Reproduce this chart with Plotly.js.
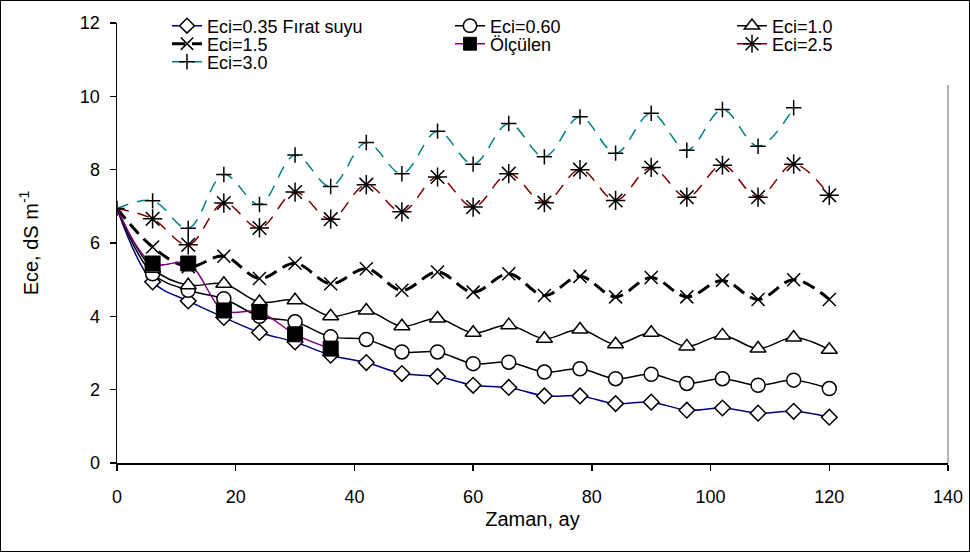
<!DOCTYPE html>
<html><head><meta charset="utf-8">
<script src="https://cdn.plot.ly/plotly-3.0.1.min.js"></script>
<style>
html,body{margin:0;padding:0;background:#fff}
#wrap{position:relative;width:970px;height:552px}
#chart{width:970px;height:552px}
#frame{position:absolute;left:0;top:0;width:970px;height:552px;box-sizing:border-box;border:1px solid #000;pointer-events:none}
</style>
</head><body><div id="wrap"><div id="chart"></div><div id="frame"></div></div>
<script>
const months = [0,6,12,18,24,30,36,42,48,54,60,66,72,78,84,90,96,102,108,114,120];
const months300 = [0,6,12,18,24,30,36,42,48,54,60,66,72,78,84,90,96,102,108,114];
const monthsMeasured = [0,6,12,18,24,30,36];

const eci035 = [6.94,4.94,4.42,3.97,3.56,3.30,2.94,2.74,2.44,2.36,2.12,2.06,1.83,1.83,1.62,1.66,1.44,1.50,1.36,1.41,1.25];
const eci060 = [6.94,5.16,4.71,4.48,4.00,3.85,3.44,3.37,3.03,3.03,2.71,2.75,2.48,2.57,2.30,2.42,2.17,2.30,2.12,2.26,2.03];
const eci100 = [6.94,5.30,4.85,4.89,4.39,4.44,4.00,4.16,3.73,3.94,3.55,3.76,3.39,3.64,3.24,3.55,3.18,3.48,3.12,3.42,3.09];
const eci150 = [6.94,5.89,5.35,5.64,5.03,5.45,4.89,5.30,4.71,5.21,4.66,5.16,4.57,5.09,4.53,5.06,4.53,4.98,4.46,5.00,4.46];
const measured = [6.94,5.44,5.44,4.16,4.12,3.51,3.12];
const eci250 = [6.94,6.66,5.95,7.09,6.41,7.39,6.65,7.59,6.85,7.80,6.98,7.89,7.10,8.00,7.16,8.06,7.25,8.12,7.25,8.15,7.30];
const eci300 = [6.94,7.15,6.40,7.87,7.05,8.40,7.54,8.74,7.89,9.05,8.15,9.26,8.35,9.44,8.45,9.54,8.53,9.64,8.64,9.69];

const names = ['Eci=0.35 Fırat suyu','Eci=0.60','Eci=1.0','Eci=1.5','Ölçülen','Eci=2.5','Eci=3.0'];

const FONT = 'Liberation Sans, Arial, sans-serif';
function sizes(arr, s, hideFirst){ return arr.map((v,i)=> (hideFirst && i===0) ? 0 : s); }

const traces = [
  {x: months, y: eci035, name: names[0], legend:'legend', mode:'lines+markers',
   line:{color:'#000080', width:1.5, shape:'spline'},
   marker:{symbol:'diamond', size:sizes(eci035,12,true), opacity:1, color:'#fff', line:{color:'#000', width:1.5}}},
  {x: months, y: eci060, name: names[1], legend:'legend2', mode:'lines+markers',
   line:{color:'#000', width:1.5, shape:'spline'},
   marker:{symbol:'circle', size:sizes(eci060,14,true), opacity:1, color:'#fff', line:{color:'#000', width:1.5}}},
  {x: months, y: eci100, name: names[2], legend:'legend3', mode:'lines+markers',
   line:{color:'#000', width:1.5, shape:'spline'},
   marker:{symbol:'triangle-up', size:sizes(eci100,14,true), opacity:1, color:'#fff', line:{color:'#000', width:1.5}}},
  {x: months, y: eci150, name: names[3], legend:'legend4', mode:'lines+markers',
   line:{color:'#000', width:3, shape:'spline', dash:'13px,7px'},
   marker:{symbol:'x-thin-open', size:sizes(eci150,13,true), opacity:1, color:'#000', line:{color:'#000', width:1.5}}},
  {x: monthsMeasured, y: measured, name: names[4], legend:'legend5', mode:'lines+markers',
   line:{color:'#800080', width:1.5, shape:'spline'},
   marker:{symbol:'square', size:sizes(measured,15,true), opacity:1, color:'#000', line:{color:'#000', width:1}}},
  {x: months, y: eci250, name: names[5], legend:'legend6', mode:'lines+markers',
   line:{color:'#800000', width:1.5, shape:'spline', dash:'12px,9px'},
   marker:{symbol:'asterisk-open', size:sizes(eci250,16,true), opacity:1, color:'#000', line:{color:'#000', width:1.5}}},
  {x: months300, y: eci300, name: names[6], legend:'legend7', mode:'lines+markers',
   line:{color:'#008080', width:1.5, shape:'spline', dash:'12px,9px'},
   marker:{symbol:'cross-thin-open', size:sizes(eci300,11,false), opacity:1, color:'#000', line:{color:'#000', width:1.5}}}
];

const L = 117, R = 948, T = 23, B = 463;
function px2x(p){ return (p - L)/(R - L); }
function px2y(p){ return (B - p)/(B - T); }
function leg(xpx, ypx){
  return {x:px2x(xpx), y:px2y(ypx), xanchor:'left', yanchor:'middle', bgcolor:'rgba(0,0,0,0)',
          borderwidth:0, font:{family:FONT, size:18, color:'#000'}, itemsizing:'trace'};
}
const c1 = 167, c2 = 450, c3 = 732, r1 = 26, r2 = 44, r3 = 62;

const layout = {
  width:970, height:552,
  margin:{l:L, r:970-R, t:T, b:552-B, autoexpand:false},
  paper_bgcolor:'#fff', plot_bgcolor:'#fff',
  font:{family:FONT, size:18, color:'#000'},
  showlegend:true,
  legend: leg(c1, r1), legend2: leg(c2, r1), legend3: leg(c3, r1),
  legend4: leg(c1, r2), legend5: leg(c2, r2), legend6: leg(c3, r2),
  legend7: leg(c1, r3),
  xaxis:{range:[0,140], dtick:20, tick0:0, ticks:'outside', ticklen:6, tickwidth:1.5, tickcolor:'#000',
         showline:true, linecolor:'#000', linewidth:1.5, showgrid:false, zeroline:false,
         tickfont:{family:FONT, size:18, color:'#000'}, ticklabelstandoff:11,
         title:{text:'Zaman, ay', font:{family:FONT, size:20, color:'#000'}, standoff:6}},
  yaxis:{range:[0,12], dtick:2, tick0:0, ticks:'outside', ticklen:6, tickwidth:1.5, tickcolor:'#000',
         showline:true, linecolor:'#000', linewidth:1.5, showgrid:false, zeroline:false,
         tickfont:{family:FONT, size:18, color:'#000'}, ticklabelstandoff:6,
         title:{text:'Ece, dS m<sup>-1</sup>', font:{family:FONT, size:20, color:'#000'}, standoff:36}},
  shapes:[{type:'line', xref:'paper', yref:'paper', x0:1, x1:1, y0:0, y1:px2y(85),
           line:{color:'#808080', width:1.2}}]
};

Plotly.newPlot('chart', traces, layout, {displayModeBar:false, staticPlot:true});
</script>
</body></html>
